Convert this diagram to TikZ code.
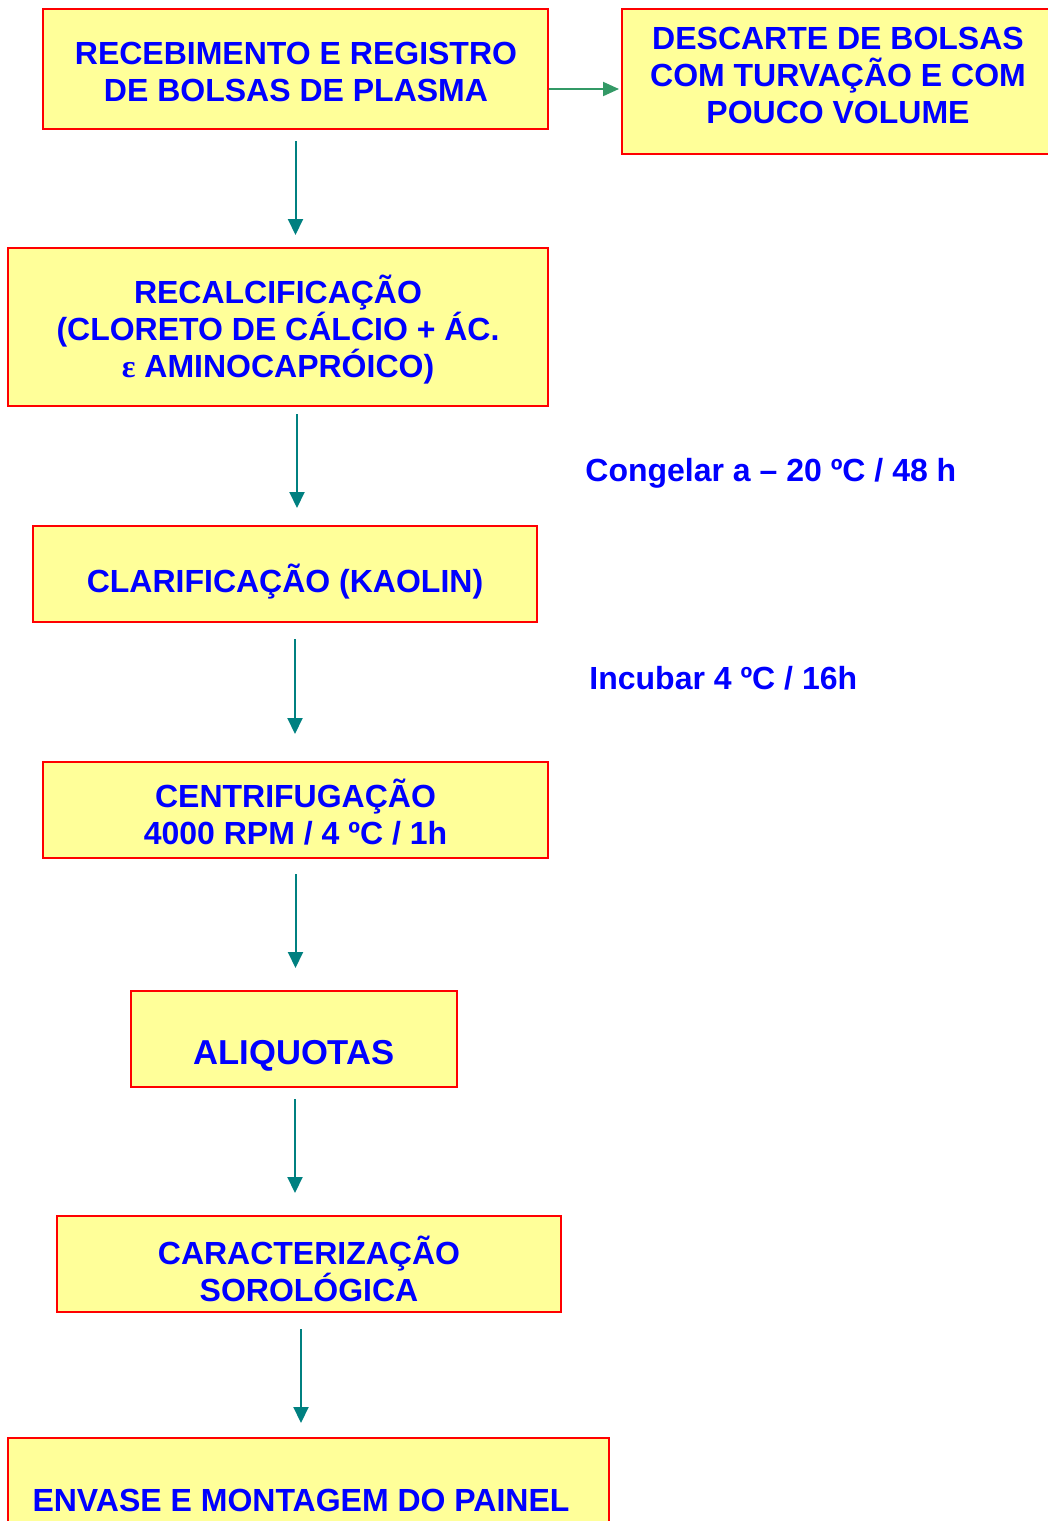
\documentclass[tikz,border=0pt]{standalone}
\usepackage{fontspec}
\setmainfont{Liberation Sans}
\newfontfamily\greekfont{Liberation Serif}
\usetikzlibrary{arrows.meta}
\definecolor{boxfill}{HTML}{FFFF99}
\definecolor{boxline}{HTML}{FF0000}
\definecolor{txtblue}{HTML}{0000FF}
\definecolor{flowteal}{HTML}{008080}
\definecolor{sidegreen}{HTML}{339966}

\begin{document}
\begin{tikzpicture}[x=0.5pt, y=-0.5pt,
  box/.style={draw=boxline, fill=boxfill, line width=1pt, inner sep=0pt},
  txt/.style={text=txtblue, font=\fontsize{16pt}{18.5pt}\selectfont\bfseries, align=center, inner sep=0pt},
  flow/.style={draw=flowteal, line width=1pt, -{Triangle[length=8pt,width=7.5pt]}},
  side/.style={draw=sidegreen, line width=1pt, -{Triangle[length=8pt,width=7pt]}}]
\path[use as bounding box, clip] (0,0) rectangle (1048,1521);

% boxes
\node[box, minimum width=252.5pt, minimum height=60pt] (receb) at (295.5,69) {};
\node[box, minimum width=216pt, minimum height=72.5pt] (desc) at (838,81.5) {};
\node[box, minimum width=270pt, minimum height=79pt] (recalc) at (278,327) {};
\node[box, minimum width=252pt, minimum height=48pt] (clar) at (285,574) {};
\node[box, minimum width=252.5pt, minimum height=48pt] (centrif) at (295.5,810) {};
\node[box, minimum width=163pt, minimum height=48pt] (aliq) at (294,1039) {};
\node[box, minimum width=252pt, minimum height=48pt] (carac) at (309,1264) {};
\node[box, minimum width=300.5pt, minimum height=48pt] (envase) at (308.5,1486) {};

% texts
\node[txt] (receb-t) at (296,72) {RECEBIMENTO E REGISTRO\\DE BOLSAS DE PLASMA};
\node[txt] (desc-t) at (838,75.5) {DESCARTE DE BOLSAS\\COM TURVAÇÃO E COM\\POUCO VOLUME};
\node[txt] (recalc-t) at (278,330) {RECALCIFICAÇÃO\\(CLORETO DE CÁLCIO + ÁC.\\{\greekfont ε} AMINOCAPRÓICO)};
\node[txt, anchor=base] (clar-t) at (285,592) {CLARIFICAÇÃO (KAOLIN)};
\node[txt] (centrif-t) at (295.5,812) {CENTRIFUGAÇÃO\\4000 RPM / 4 ºC / 1h};
\node[txt, anchor=base, font=\fontsize{17.3pt}{20pt}\selectfont\bfseries] (aliq-t) at (294,1064) {ALIQUOTAS};
\node[txt] (carac-t) at (309,1269) {CARACTERIZAÇÃO\\SOROLÓGICA};
\node[txt, anchor=base] (envase-t) at (301,1511) {ENVASE E MONTAGEM DO PAINEL};
\node[txt, anchor=base west] (congelar) at (585,481) {Congelar a – 20 ºC / 48 h};
\node[txt, anchor=base west] (incubar) at (589,689) {Incubar 4 ºC / 16h};

% arrows
\draw[side, shorten >=1pt] ([yshift=-10pt]receb.east) -- ([yshift=-10pt]receb.east -| desc.west);
\draw[flow, shorten <=5.5pt, shorten >=6pt] (receb.south) -- (receb.south |- recalc.north);
\draw[flow, shorten <=3.5pt, shorten >=8.5pt] ([xshift=9.5pt]recalc.south) -- ([xshift=9.5pt]recalc.south |- clar.north);
\draw[flow, shorten <=8pt, shorten >=13.5pt] ([xshift=5pt]clar.south) -- ([xshift=5pt]clar.south |- centrif.north);
\draw[flow, shorten <=7.5pt, shorten >=11pt] (centrif.south) -- (centrif.south |- aliq.north);
\draw[flow, shorten <=5.5pt, shorten >=11pt] ([xshift=0.5pt]aliq.south) -- ([xshift=0.5pt]aliq.south |- carac.north);
\draw[flow, shorten <=8pt, shorten >=7pt] ([xshift=-4pt]carac.south) -- ([xshift=-4pt]carac.south |- envase.north);
\end{tikzpicture}
\end{document}
